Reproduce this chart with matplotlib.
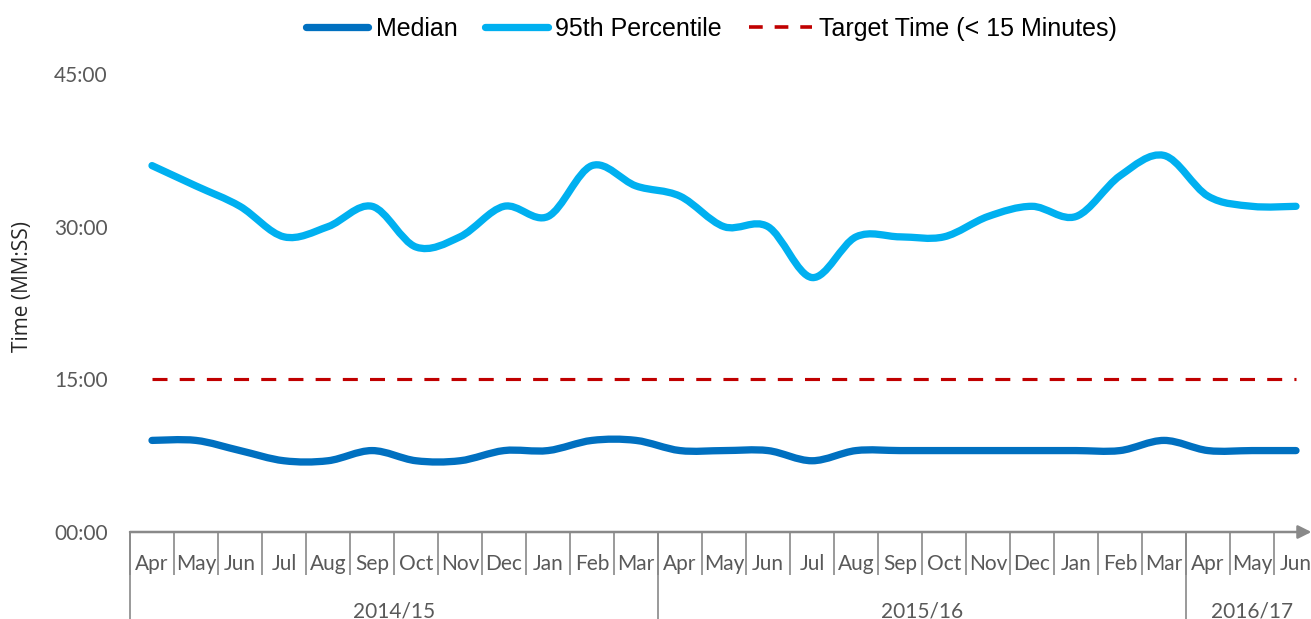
import numpy as np
import matplotlib
matplotlib.use('Agg')
import matplotlib.pyplot as plt
from matplotlib.path import Path
from matplotlib.patches import PathPatch
from matplotlib.lines import Line2D

months = ['Apr', 'May', 'Jun', 'Jul', 'Aug', 'Sep', 'Oct', 'Nov', 'Dec', 'Jan', 'Feb', 'Mar',
          'Apr', 'May', 'Jun', 'Jul', 'Aug', 'Sep', 'Oct', 'Nov', 'Dec', 'Jan', 'Feb', 'Mar',
          'Apr', 'May', 'Jun']
years = ['2014/15', '2015/16', '2016/17']
year_sizes = [12, 12, 3]

# minutes
median = [9, 9, 8, 7, 7, 8, 7, 7, 8, 8, 9, 9,
          8, 8, 8, 7, 8, 8, 8, 8, 8, 8, 8, 9,
          8, 8, 8]
p95 = [36, 34, 32, 29, 30, 32, 28, 29, 32, 31, 36, 34,
       33, 30, 30, 25, 29, 29, 29, 31, 32, 31, 35, 37,
       33, 32, 32]
target = 15
yticks = [0, 15, 30, 45]
ytick_labels = ['00:00', '15:00', '30:00', '45:00']

c_med = '#0070C0'
c_p95 = '#00B0F0'
c_tgt = '#C00000'
grey = '#898989'
txt = '#595959'


def smooth_path(xs, ys):
    # Excel-style smoothed line: cubic bezier with catmull-rom control points
    pts = np.column_stack([xs, ys]).astype(float)
    n = len(pts)
    verts = [pts[0]]
    codes = [Path.MOVETO]
    for i in range(n - 1):
        p0 = pts[max(i - 1, 0)]
        p1 = pts[i]
        p2 = pts[i + 1]
        p3 = pts[min(i + 2, n - 1)]
        verts += [p1 + (p2 - p0) / 6, p2 - (p3 - p1) / 6, p2]
        codes += [Path.CURVE4] * 3
    return Path(verts, codes)


fig = plt.figure(figsize=(13.11, 6.19), dpi=100)
ax = fig.add_axes([130 / 1311, 87 / 619, 1188 / 1311, 458 / 619])

x = np.arange(len(months))
ax.plot(x, [target] * len(x), color=c_tgt, lw=2.25, dashes=(4.8, 3.9),
        dash_capstyle='butt')
for vals, col in [(median, c_med), (p95, c_p95)]:
    ax.add_patch(PathPatch(smooth_path(x, vals), fill=False, edgecolor=col,
                           lw=5.25, capstyle='round', joinstyle='round'))

ax.set_xlim(-0.5, len(months) - 0.5)
ax.set_ylim(0, 45)
for s in ['top', 'right', 'left', 'bottom']:
    ax.spines[s].set_visible(False)

ax.set_yticks(yticks)
ax.set_yticklabels(ytick_labels, family='Lato', fontsize=15, color=txt)
ax.tick_params(axis='y', length=0, pad=16)

ax.set_xticks(np.arange(-0.5, len(months), 1))
ax.set_xticklabels([])
ax.tick_params(axis='x', length=31, width=1.2, color=grey, direction='out')

# x axis with arrow
ax.annotate('', xy=(26.35, 0), xytext=(-0.5, 0), xycoords='data',
            arrowprops=dict(arrowstyle='-|>', color=grey, lw=1.8,
                            mutation_scale=20, shrinkA=0, shrinkB=0),
            annotation_clip=False)

for i, m in enumerate(months):
    ax.annotate(m, (i, 0), xytext=(0, -23), textcoords='offset points',
                ha='center', va='center', family='Lato', fontsize=15, color=txt)

start = 0
for yr, n in zip(years, year_sizes):
    ax.plot([start - 0.5, start - 0.5], [0, -0.2], color=grey, lw=1.2,
            transform=ax.get_xaxis_transform(), clip_on=False)
    ax.annotate(yr, (start + (n - 1) / 2, 0), xytext=(0, -57), textcoords='offset points',
                ha='center', va='center', family='Lato', fontsize=15, color=txt)
    start += n

ax.set_ylabel('Time (MM:SS)', family='Open Sans', fontsize=15, color='#262626')
ax.yaxis.set_label_coords(-97 / 1188, 0.535)

handles = [Line2D([], [], color=c_med, lw=5.25, solid_capstyle='round'),
           Line2D([], [], color=c_p95, lw=5.25, solid_capstyle='round'),
           Line2D([], [], color=c_tgt, lw=2.6, dashes=(3.8, 3.3))]
fig.legend(handles, ['Median', '95th Percentile', 'Target Time (< 15 Minutes)'],
           loc='center', bbox_to_anchor=(711.5 / 1311, 0.953), ncol=3, frameon=False,
           prop={'family': 'Liberation Sans', 'size': 18},
           handlelength=2.5, handletextpad=0.3, columnspacing=1.1)

fig.savefig('out.png', dpi=100)
